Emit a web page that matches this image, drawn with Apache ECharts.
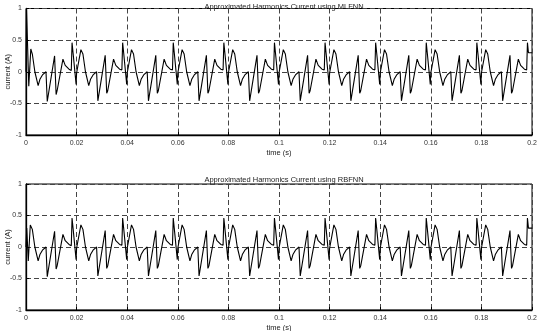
<!DOCTYPE html>
<html>
<head>
<meta charset="utf-8">
<script src="https://cdn.jsdelivr.net/npm/echarts@6/dist/echarts.min.js"></script>
<style>html,body{margin:0;padding:0;background:#fff}#c{width:542px;height:331px}</style>
</head>
<body>
<div id="c"></div>
<script>
// Titles and axis labels
const titles = ['Approximated Harmonics Current using MLFNN', 'Approximated Harmonics Current using RBFNN'];
const xName = 'time (s)';
const yName = 'current (A)';
const xTicks = [0, 0.02, 0.04, 0.06, 0.08, 0.1, 0.12, 0.14, 0.16, 0.18, 0.2];
const yTicks = [-1, -0.5, 0, 0.5, 1];

// MLFNN approximated harmonic current (time s, current A)
const mlfnnTime = [
  0, 0.0002, 0.0011, 0.0019, 0.0025, 0.0035, 0.0048, 0.0055, 0.0065, 0.0079, 0.0084, 0.0113, 0.0119, 0.0123, 0.0146, 0.0155, 0.0170, 0.0179, 0.0182, 0.0186, 0.0193, 0.0198,
  0.0200, 0.0217, 0.0225, 0.0235, 0.0248, 0.0255, 0.0265, 0.0279, 0.0284, 0.0313, 0.0319, 0.0323, 0.0346, 0.0355, 0.0370, 0.0379, 0.0382, 0.0386, 0.0393, 0.0398,
  0.0400, 0.0417, 0.0425, 0.0435, 0.0448, 0.0455, 0.0465, 0.0479, 0.0484, 0.0513, 0.0519, 0.0523, 0.0546, 0.0555, 0.0570, 0.0579, 0.0582, 0.0586, 0.0593, 0.0598,
  0.0600, 0.0617, 0.0625, 0.0635, 0.0648, 0.0655, 0.0665, 0.0679, 0.0684, 0.0713, 0.0719, 0.0723, 0.0746, 0.0755, 0.0770, 0.0779, 0.0782, 0.0786, 0.0793, 0.0798,
  0.0800, 0.0817, 0.0825, 0.0835, 0.0848, 0.0855, 0.0865, 0.0879, 0.0884, 0.0913, 0.0919, 0.0923, 0.0946, 0.0955, 0.0970, 0.0979, 0.0982, 0.0986, 0.0993, 0.0998,
  0.1000, 0.1017, 0.1025, 0.1035, 0.1048, 0.1055, 0.1065, 0.1079, 0.1084, 0.1113, 0.1119, 0.1123, 0.1146, 0.1155, 0.1170, 0.1179, 0.1182, 0.1186, 0.1193, 0.1198,
  0.1200, 0.1217, 0.1225, 0.1235, 0.1248, 0.1255, 0.1265, 0.1279, 0.1284, 0.1313, 0.1319, 0.1323, 0.1346, 0.1355, 0.1370, 0.1379, 0.1382, 0.1386, 0.1393, 0.1398,
  0.1400, 0.1417, 0.1425, 0.1435, 0.1448, 0.1455, 0.1465, 0.1479, 0.1484, 0.1513, 0.1519, 0.1523, 0.1546, 0.1555, 0.1570, 0.1579, 0.1582, 0.1586, 0.1593, 0.1598,
  0.1600, 0.1617, 0.1625, 0.1635, 0.1648, 0.1655, 0.1665, 0.1679, 0.1684, 0.1713, 0.1719, 0.1723, 0.1746, 0.1755, 0.1770, 0.1779, 0.1782, 0.1786, 0.1793, 0.1798,
  0.1800, 0.1817, 0.1825, 0.1835, 0.1848, 0.1855, 0.1865, 0.1879, 0.1884, 0.1913, 0.1919, 0.1923, 0.1946, 0.1955, 0.1970, 0.1979, 0.1982, 0.1986, 0.2000
];
const mlfnnCurrent = [
  0, 1.00, -0.23, 0.36, 0.28, 0.00, -0.22, -0.12, -0.05, 0.00, -0.47, 0.25, -0.36, -0.30, 0.20, 0.10, 0.04, 0.02, 0.46, 0.30, 0.30, -0.20,
  -0.02, 0.35, 0.28, 0.00, -0.22, -0.12, -0.05, 0.00, -0.46, 0.26, -0.34, -0.30, 0.20, 0.10, 0.04, 0.03, 0.46, 0.30, 0.30, -0.20,
  -0.02, 0.35, 0.28, 0.00, -0.22, -0.12, -0.05, 0.00, -0.46, 0.26, -0.34, -0.30, 0.20, 0.10, 0.04, 0.03, 0.46, 0.30, 0.30, -0.20,
  -0.02, 0.35, 0.28, 0.00, -0.22, -0.12, -0.05, 0.00, -0.46, 0.26, -0.34, -0.30, 0.20, 0.10, 0.04, 0.03, 0.46, 0.30, 0.30, -0.20,
  -0.02, 0.35, 0.28, 0.00, -0.22, -0.12, -0.05, 0.00, -0.46, 0.26, -0.34, -0.30, 0.20, 0.10, 0.04, 0.03, 0.46, 0.30, 0.30, -0.20,
  -0.02, 0.35, 0.28, 0.00, -0.22, -0.12, -0.05, 0.00, -0.46, 0.26, -0.34, -0.30, 0.20, 0.10, 0.04, 0.03, 0.46, 0.30, 0.30, -0.20,
  -0.02, 0.35, 0.28, 0.00, -0.22, -0.12, -0.05, 0.00, -0.46, 0.26, -0.34, -0.30, 0.20, 0.10, 0.04, 0.03, 0.46, 0.30, 0.30, -0.20,
  -0.02, 0.35, 0.28, 0.00, -0.22, -0.12, -0.05, 0.00, -0.46, 0.26, -0.34, -0.30, 0.20, 0.10, 0.04, 0.03, 0.46, 0.30, 0.30, -0.20,
  -0.02, 0.35, 0.28, 0.00, -0.22, -0.12, -0.05, 0.00, -0.46, 0.26, -0.34, -0.30, 0.20, 0.10, 0.04, 0.03, 0.46, 0.30, 0.30, -0.20,
  -0.02, 0.35, 0.28, 0.00, -0.22, -0.12, -0.05, 0.00, -0.46, 0.26, -0.34, -0.30, 0.20, 0.10, 0.04, 0.03, 0.46, 0.30, 0.30
];

// RBFNN approximated harmonic current (time s, current A)
const rbfnnTime = [
  0, 0.0003, 0.0009, 0.0017, 0.0025, 0.0035, 0.0048, 0.0055, 0.0065, 0.0079, 0.0084, 0.0113, 0.0119, 0.0123, 0.0146, 0.0155, 0.0170, 0.0179, 0.0182, 0.0186, 0.0193, 0.0198,
  0.0200, 0.0217, 0.0225, 0.0235, 0.0248, 0.0255, 0.0265, 0.0279, 0.0284, 0.0313, 0.0319, 0.0323, 0.0346, 0.0355, 0.0370, 0.0379, 0.0382, 0.0386, 0.0393, 0.0398,
  0.0400, 0.0417, 0.0425, 0.0435, 0.0448, 0.0455, 0.0465, 0.0479, 0.0484, 0.0513, 0.0519, 0.0523, 0.0546, 0.0555, 0.0570, 0.0579, 0.0582, 0.0586, 0.0593, 0.0598,
  0.0600, 0.0617, 0.0625, 0.0635, 0.0648, 0.0655, 0.0665, 0.0679, 0.0684, 0.0713, 0.0719, 0.0723, 0.0746, 0.0755, 0.0770, 0.0779, 0.0782, 0.0786, 0.0793, 0.0798,
  0.0800, 0.0817, 0.0825, 0.0835, 0.0848, 0.0855, 0.0865, 0.0879, 0.0884, 0.0913, 0.0919, 0.0923, 0.0946, 0.0955, 0.0970, 0.0979, 0.0982, 0.0986, 0.0993, 0.0998,
  0.1000, 0.1017, 0.1025, 0.1035, 0.1048, 0.1055, 0.1065, 0.1079, 0.1084, 0.1113, 0.1119, 0.1123, 0.1146, 0.1155, 0.1170, 0.1179, 0.1182, 0.1186, 0.1193, 0.1198,
  0.1200, 0.1217, 0.1225, 0.1235, 0.1248, 0.1255, 0.1265, 0.1279, 0.1284, 0.1313, 0.1319, 0.1323, 0.1346, 0.1355, 0.1370, 0.1379, 0.1382, 0.1386, 0.1393, 0.1398,
  0.1400, 0.1417, 0.1425, 0.1435, 0.1448, 0.1455, 0.1465, 0.1479, 0.1484, 0.1513, 0.1519, 0.1523, 0.1546, 0.1555, 0.1570, 0.1579, 0.1582, 0.1586, 0.1593, 0.1598,
  0.1600, 0.1617, 0.1625, 0.1635, 0.1648, 0.1655, 0.1665, 0.1679, 0.1684, 0.1713, 0.1719, 0.1723, 0.1746, 0.1755, 0.1770, 0.1779, 0.1782, 0.1786, 0.1793, 0.1798,
  0.1800, 0.1817, 0.1825, 0.1835, 0.1848, 0.1855, 0.1865, 0.1879, 0.1884, 0.1913, 0.1919, 0.1923, 0.1946, 0.1955, 0.1970, 0.1979, 0.1982, 0.1986, 0.2000
];
const rbfnnCurrent = [
  0, 0.30, -0.22, 0.35, 0.28, 0.00, -0.22, -0.12, -0.05, 0.00, -0.47, 0.25, -0.35, -0.30, 0.20, 0.10, 0.04, 0.02, 0.46, 0.30, 0.30, -0.20,
  -0.02, 0.35, 0.28, 0.00, -0.22, -0.12, -0.05, 0.00, -0.46, 0.26, -0.34, -0.30, 0.20, 0.10, 0.04, 0.03, 0.46, 0.30, 0.30, -0.20,
  -0.02, 0.35, 0.28, 0.00, -0.22, -0.12, -0.05, 0.00, -0.46, 0.26, -0.34, -0.30, 0.20, 0.10, 0.04, 0.03, 0.46, 0.30, 0.30, -0.20,
  -0.02, 0.35, 0.28, 0.00, -0.22, -0.12, -0.05, 0.00, -0.46, 0.26, -0.34, -0.30, 0.20, 0.10, 0.04, 0.03, 0.46, 0.30, 0.30, -0.20,
  -0.02, 0.35, 0.28, 0.00, -0.22, -0.12, -0.05, 0.00, -0.46, 0.26, -0.34, -0.30, 0.20, 0.10, 0.04, 0.03, 0.46, 0.30, 0.30, -0.20,
  -0.02, 0.35, 0.28, 0.00, -0.22, -0.12, -0.05, 0.00, -0.46, 0.26, -0.34, -0.30, 0.20, 0.10, 0.04, 0.03, 0.46, 0.30, 0.30, -0.20,
  -0.02, 0.35, 0.28, 0.00, -0.22, -0.12, -0.05, 0.00, -0.46, 0.26, -0.34, -0.30, 0.20, 0.10, 0.04, 0.03, 0.46, 0.30, 0.30, -0.20,
  -0.02, 0.35, 0.28, 0.00, -0.22, -0.12, -0.05, 0.00, -0.46, 0.26, -0.34, -0.30, 0.20, 0.10, 0.04, 0.03, 0.46, 0.30, 0.30, -0.20,
  -0.02, 0.35, 0.28, 0.00, -0.22, -0.12, -0.05, 0.00, -0.46, 0.26, -0.34, -0.30, 0.20, 0.10, 0.04, 0.03, 0.46, 0.30, 0.30, -0.20,
  -0.02, 0.35, 0.28, 0.00, -0.22, -0.12, -0.05, 0.00, -0.46, 0.26, -0.34, -0.30, 0.20, 0.10, 0.04, 0.03, 0.46, 0.30, 0.30
];

const FONT = 'Liberation Sans, Arial, sans-serif';
const TXT = '#222';
const gridLine = { show: true, lineStyle: { color: '#444', width: 1, type: [5, 3] } };
const fmtX = v => (Math.round(v * 100) / 100).toString();
const fmtY = v => (Math.round(v * 10) / 10).toString();

function xAx(gi) {
  return {
    type: 'value', gridIndex: gi, min: xTicks[0], max: xTicks[xTicks.length - 1], interval: 0.02,
    name: xName, nameLocation: 'middle', nameGap: 14, nameMoveOverlap: false,
    nameTextStyle: { fontFamily: FONT, fontSize: 7.5, color: TXT },
    axisLine: { show: true, onZero: false, lineStyle: { color: '#000', width: 1.3 } },
    axisTick: { show: true, inside: true, length: 3, lineStyle: { color: '#000' } },
    axisLabel: { fontFamily: FONT, fontSize: 7, color: '#333', margin: 5, formatter: fmtX },
    splitLine: gridLine
  };
}
function yAx(gi) {
  return {
    type: 'value', gridIndex: gi, min: yTicks[0], max: yTicks[yTicks.length - 1], interval: 0.5,
    name: yName, nameLocation: 'middle', nameGap: 14, nameRotate: 90, nameMoveOverlap: false,
    nameTextStyle: { fontFamily: FONT, fontSize: 7.5, color: TXT },
    axisLine: { show: true, onZero: false, lineStyle: { color: '#000', width: 1.3 } },
    axisTick: { show: true, inside: true, length: 3, lineStyle: { color: '#000' } },
    axisLabel: { fontFamily: FONT, fontSize: 7, color: '#333', margin: 4, formatter: fmtY },
    splitLine: gridLine
  };
}

const chart = echarts.init(document.getElementById('c'), null, { renderer: 'canvas' });
chart.setOption({
  animation: false,
  backgroundColor: '#fff',
  title: [
    { text: titles[0], left: 279, textAlign: 'center', top: -2, textStyle: { fontFamily: FONT, fontSize: 7.5, fontWeight: 'normal', color: TXT } },
    { text: titles[1], left: 279, textAlign: 'center', top: 171, textStyle: { fontFamily: FONT, fontSize: 7.5, fontWeight: 'normal', color: TXT } }
  ],
  grid: [
    { left: 26, right: 10, top: 8.5, height: 126.5, containLabel: false, outerBoundsMode: 'none', show: true, borderColor: '#000', borderWidth: 1, backgroundColor: '#fff' },
    { left: 26, right: 10, top: 184, height: 126, containLabel: false, outerBoundsMode: 'none', show: true, borderColor: '#000', borderWidth: 1, backgroundColor: '#fff' }
  ],
  xAxis: [xAx(0), xAx(1)],
  yAxis: [yAx(0), yAx(1)],
  series: [
    { type: 'line', xAxisIndex: 0, yAxisIndex: 0, showSymbol: false, silent: true,
      lineStyle: { color: '#000', width: 1.1 },
      data: mlfnnTime.map((t, i) => [t, mlfnnCurrent[i]]) },
    { type: 'line', xAxisIndex: 1, yAxisIndex: 1, showSymbol: false, silent: true,
      lineStyle: { color: '#000', width: 1.1 },
      data: rbfnnTime.map((t, i) => [t, rbfnnCurrent[i]]) }
  ]
});
</script>
</body>
</html>
